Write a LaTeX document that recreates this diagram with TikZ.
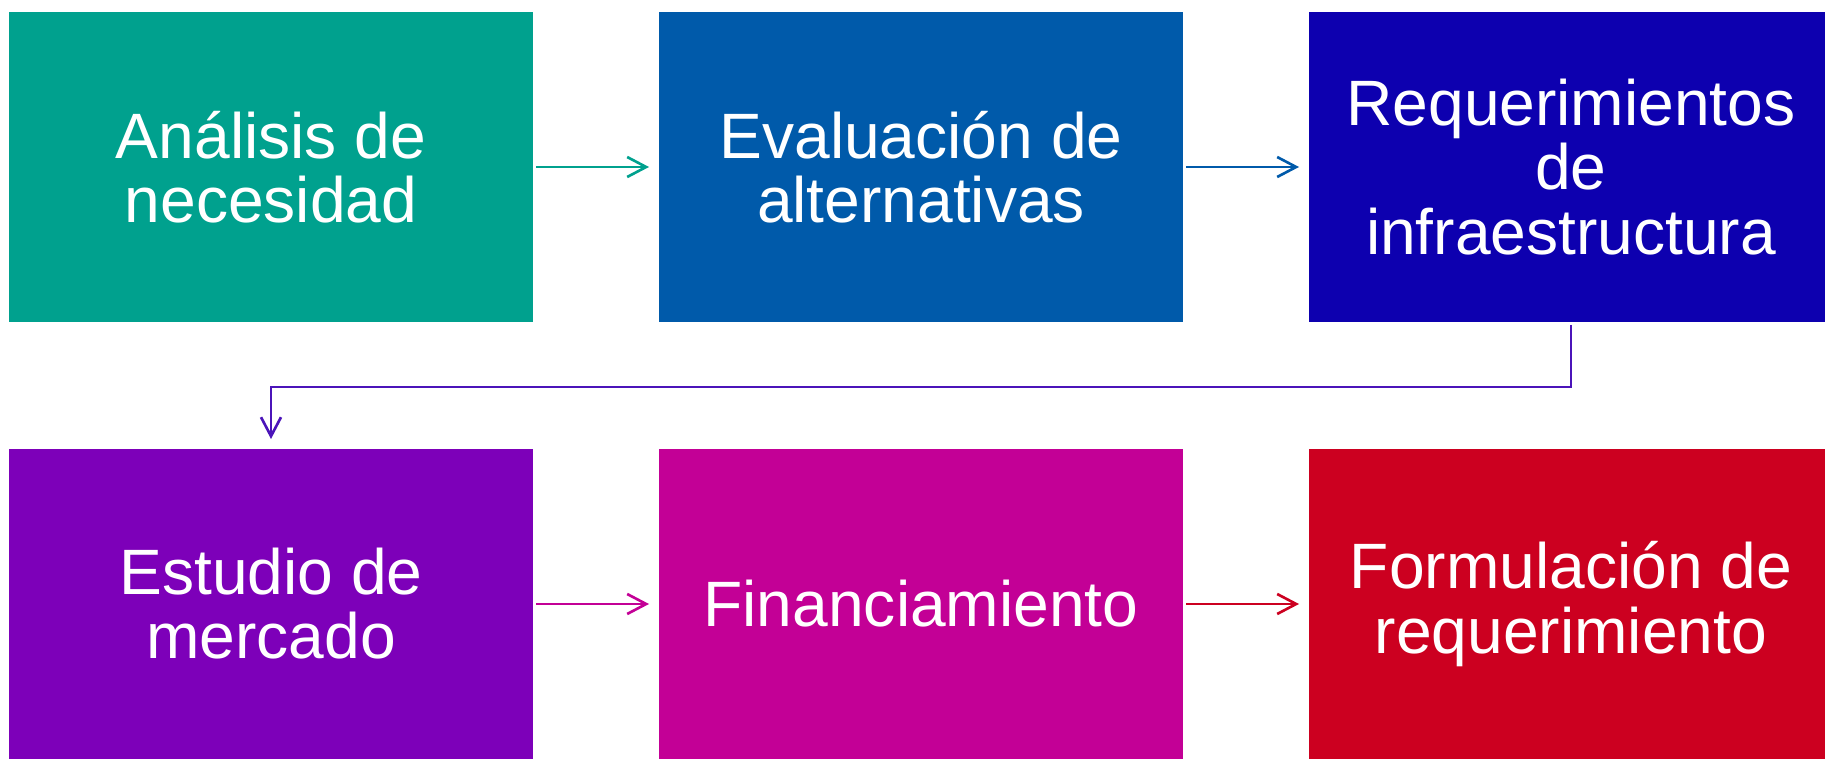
\documentclass[tikz,border=0pt]{standalone}
\usepackage{fontspec}
\setmainfont{Liberation Sans}
\usetikzlibrary{arrows.meta,positioning}

\definecolor{cTeal}{RGB}{0,161,142}
\definecolor{cBlue}{RGB}{0,90,170}
\definecolor{cIndigo}{RGB}{13,0,175}
\definecolor{cPurple}{RGB}{125,0,185}
\definecolor{cMagenta}{RGB}{195,0,150}
\definecolor{cRed}{RGB}{204,0,32}
\definecolor{cLink}{RGB}{75,20,185}

\begin{document}
\begin{tikzpicture}[node distance= 2.52cm]
      \useasboundingbox (0,0) rectangle (36.5,15.2);
      \begin{scope}[every node/.style={rectangle,inner sep=0pt,outer sep=0pt,
          minimum width=10.48cm,minimum height=6.2cm,text=white,align=center,
          font=\fontsize{36.5pt}{36.5pt}\selectfont}]
        \node (analisis) [fill=cTeal] at (5.42,11.86) {Análisis de\\necesidad};
        \node (evaluacion) [fill=cBlue,right= of analisis] {Evaluación de\\alternativas};
        \node (infra) [fill=cIndigo,right= of evaluacion] {Requerimientos\\de\\infraestructura};
        \node (estudio) [fill=cPurple,below=2.54cm of analisis] {Estudio de\\mercado};
        \node (finan) [fill=cMagenta,right= of estudio] {Financiamiento};
        \node (formula) [fill=cRed,right= of finan] {Formulación de\\requerimiento};
      \end{scope}
      \begin{scope}
        [every path/.style={line width=1.5pt,
          -{Straight Barb[length=3.8mm,width=4mm,line width=1.5pt]},
          shorten <=0.06cm, shorten >=0.2cm}]
        \draw[cTeal] (analisis) -- (evaluacion);
        \draw[cBlue] (evaluacion) -- (infra);
        \draw[cLink] (infra.south) -- ++(0,-1.3) -| (estudio.north);
        \draw[cMagenta] (estudio) -- (finan);
        \draw[cRed] (finan) -- (formula);
      \end{scope}
    \end{tikzpicture}
\end{document}
